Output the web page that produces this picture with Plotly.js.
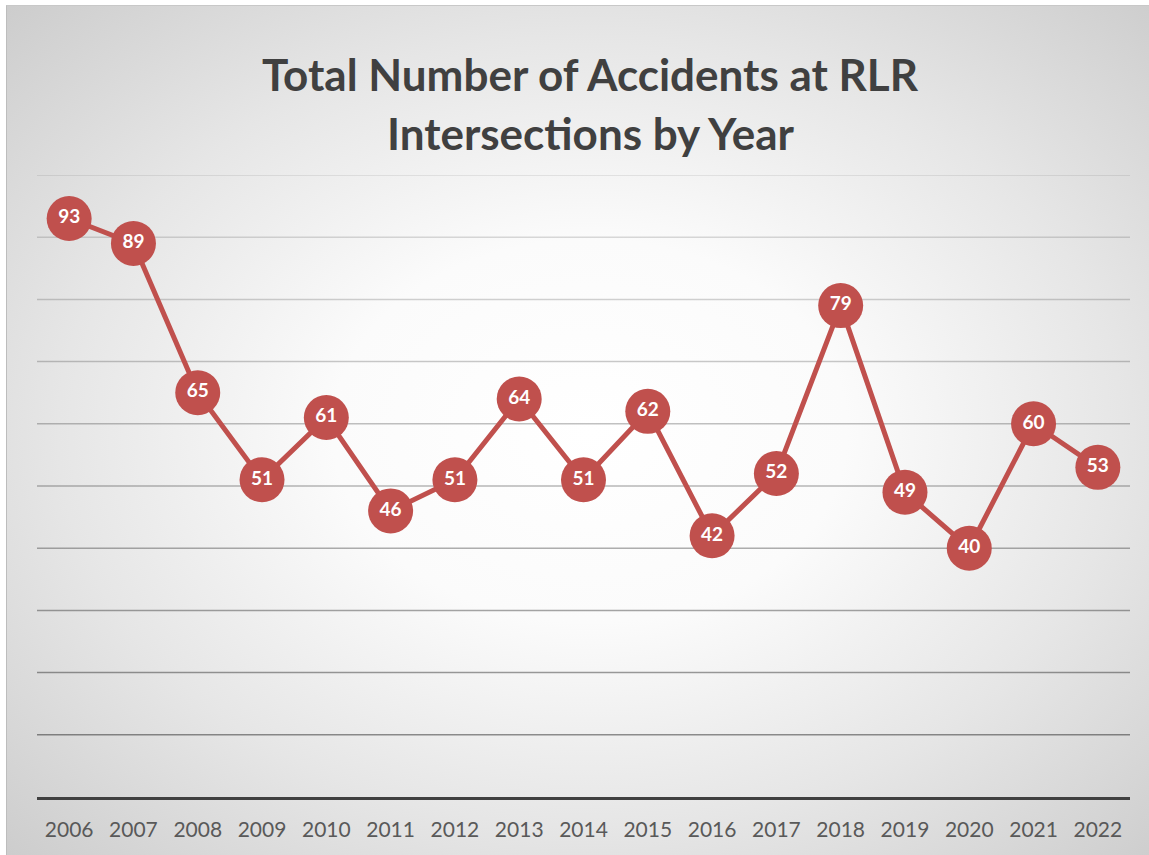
<!DOCTYPE html>
<html>
<head>
<meta charset="utf-8">
<script src="https://cdn.plot.ly/plotly-3.0.1.min.js"></script>
<style>
  html, body { margin: 0; padding: 0; background: #ffffff; }
  #frame {
    position: absolute; left: 6px; top: 5px; width: 1143px; height: 850px;
    border-left: 1px solid #bdbdbd; border-top: 1px solid #c8c8c8;
    background: radial-gradient(ellipse 75% 75% at 51% 50%, #ffffff 0%, #fbfbfb 30%, #e6e6e6 62%, #c9c9c9 100%);
  }
  #chart { position: absolute; left: 0; top: 0; width: 1149px; height: 855px; }
</style>
</head>
<body>
<div id="frame"></div>
<div id="chart"></div>
<script>
const years = ['2006','2007','2008','2009','2010','2011','2012','2013','2014','2015','2016','2017','2018','2019','2020','2021','2022'];
const accidents = [93, 89, 65, 51, 61, 46, 51, 64, 51, 62, 42, 52, 79, 49, 40, 60, 53];
const gridValues = [10, 20, 30, 40, 50, 60, 70, 80, 90, 100];
const titleLines = ['Total Number of Accidents at RLR', 'Intersections by Year'];

const red = '#C0504D';
const fontFam = 'Lato, "Open Sans", sans-serif';

const trace = {
  x: years,
  y: accidents,
  type: 'scatter',
  mode: 'lines+markers+text',
  line: { color: red, width: 5 },
  marker: { color: red, size: 45, line: { width: 0 } },
  text: accidents.map(String),
  textposition: 'middle center',
  textfont: { family: fontFam, size: 19, color: '#ffffff', weight: 'bold' },
  hoverinfo: 'x+y',
  cliponaxis: false
};

const shapes = gridValues.map((v, i) => {
  const a = 0.42 - 0.035 * i;
  return {
    type: 'line', xref: 'paper', yref: 'y', x0: 0, x1: 1, y0: v, y1: v,
    line: { color: 'rgba(0,0,0,' + a.toFixed(3) + ')', width: 1.5 },
    layer: 'below'
  };
});

const titleY = [1.1624, 1.0675];
const annotations = titleLines.map((t, i) => ({
  text: '<b>' + t + '</b>',
  xref: 'paper', yref: 'paper', x: 0.506, y: titleY[i],
  xanchor: 'center', yanchor: 'middle', showarrow: false,
  font: { family: fontFam, size: 44, color: '#404040' }
}));

const layout = {
  width: 1149, height: 855,
  paper_bgcolor: 'rgba(0,0,0,0)',
  plot_bgcolor: 'rgba(0,0,0,0)',
  margin: { l: 37, r: 19, t: 175, b: 58 },
  showlegend: false,
  xaxis: {
    type: 'category',
    range: [-0.5, 16.5],
    showgrid: false, zeroline: false,
    showline: true, linecolor: '#404040', linewidth: 3,
    ticks: '',
    tickfont: { family: fontFam, size: 21, color: '#595959' },
    ticklabelstandoff: 12,
    fixedrange: true
  },
  yaxis: {
    range: [0, 100],
    showgrid: false, zeroline: false, showline: false,
    showticklabels: false, ticks: '',
    fixedrange: true
  },
  shapes: shapes,
  annotations: annotations
};

Plotly.newPlot('chart', [trace], layout, { displayModeBar: false, staticPlot: true });
</script>
</body>
</html>
